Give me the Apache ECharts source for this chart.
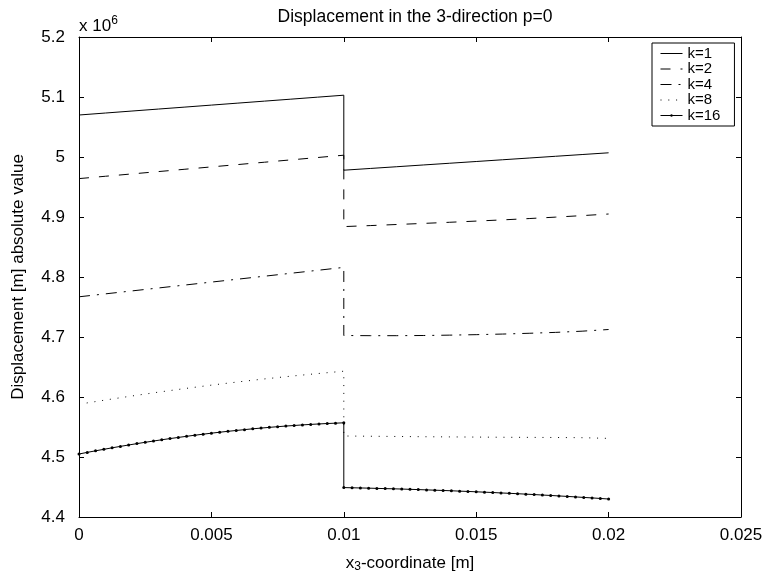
<!DOCTYPE html>
<html>
<head>
<meta charset="utf-8">
<script src="https://cdn.jsdelivr.net/npm/echarts@6/dist/echarts.min.js"></script>
<style>
  html, body { margin: 0; padding: 0; background: #fff; }
  #chart { width: 771px; height: 575px; }
</style>
</head>
<body>
<div id="chart"></div>
<script>
// x positions (m)
const xCoarseLeft = [0, 0.001, 0.002, 0.003, 0.004, 0.005, 0.006, 0.007, 0.008, 0.009, 0.01];
const xCoarseRight = [0.01, 0.011, 0.012, 0.013, 0.014, 0.015, 0.016, 0.017, 0.018, 0.019, 0.02];
const xFineLeft = [0, 0.0003125, 0.000625, 0.0009375, 0.00125, 0.0015625, 0.001875, 0.0021875, 0.0025,
  0.0028125, 0.003125, 0.0034375, 0.00375, 0.0040625, 0.004375, 0.0046875, 0.005, 0.0053125, 0.005625,
  0.0059375, 0.00625, 0.0065625, 0.006875, 0.0071875, 0.0075, 0.0078125, 0.008125, 0.0084375, 0.00875,
  0.0090625, 0.009375, 0.0096875, 0.01];
const xFineRight = [0.01, 0.0103125, 0.010625, 0.0109375, 0.01125, 0.0115625, 0.011875, 0.0121875, 0.0125,
  0.0128125, 0.013125, 0.0134375, 0.01375, 0.0140625, 0.014375, 0.0146875, 0.015, 0.0153125, 0.015625,
  0.0159375, 0.01625, 0.0165625, 0.016875, 0.0171875, 0.0175, 0.0178125, 0.018125, 0.0184375, 0.01875,
  0.0190625, 0.019375, 0.0196875, 0.02];

// displacement (x 10^6 m), left layer / right layer
const k1Left = [5.070, 5.0733, 5.0766, 5.0799, 5.0832, 5.0865, 5.0898, 5.0931, 5.0964, 5.0997, 5.103];
const k1Right = [4.978, 4.9809, 4.9838, 4.9867, 4.9896, 4.9925, 4.9954, 4.9983, 5.0012, 5.0041, 5.007];
const k2Left = [4.964, 4.9679, 4.9718, 4.9757, 4.9796, 4.9835, 4.9874, 4.9913, 4.9952, 4.9991, 5.003];
const k2Right = [4.884, 4.8857, 4.8875, 4.8893, 4.8912, 4.8932, 4.8952, 4.8974, 4.8998, 4.9023, 4.905];
const k4Left = [4.767, 4.7719, 4.7768, 4.7817, 4.7866, 4.7915, 4.7964, 4.8013, 4.8062, 4.8111, 4.816];
const k4Right = [4.7025, 4.7022, 4.7022, 4.7025, 4.7031, 4.7039, 4.7049, 4.7062, 4.7077, 4.7097, 4.7125];
const k8Left = [4.588, 4.5950, 4.6017, 4.6081, 4.6141, 4.6198, 4.6251, 4.6301, 4.6347, 4.6390, 4.643];
const k8Right = [4.535, 4.5346, 4.5342, 4.5338, 4.5335, 4.5332, 4.5329, 4.5327, 4.5325, 4.5322, 4.531];
const k16Left = [4.5050, 4.5077, 4.5103, 4.5128, 4.5153, 4.5177, 4.5200, 4.5223, 4.5245, 4.5266, 4.5287,
  4.5307, 4.5326, 4.5345, 4.5363, 4.5380, 4.5397, 4.5413, 4.5428, 4.5442, 4.5456, 4.5470, 4.5482,
  4.5494, 4.5505, 4.5516, 4.5525, 4.5535, 4.5543, 4.5551, 4.5558, 4.5564, 4.5570];
const k16Right = [4.4490, 4.4487, 4.4484, 4.4481, 4.4477, 4.4473, 4.4470, 4.4466, 4.4461, 4.4457, 4.4452,
  4.4447, 4.4442, 4.4437, 4.4431, 4.4426, 4.4420, 4.4414, 4.4408, 4.4401, 4.4395, 4.4388, 4.4381,
  4.4374, 4.4366, 4.4359, 4.4351, 4.4343, 4.4335, 4.4326, 4.4318, 4.4309, 4.4300];

const labels = ['k=1', 'k=2', 'k=4', 'k=8', 'k=16'];

function pairs(xl, yl, xr, yr) {
  return xl.map((x, i) => [x, yl[i]]).concat(xr.map((x, i) => [x, yr[i]]));
}

const FONT = 'Liberation Sans, Arial, Helvetica, sans-serif';
const chart = echarts.init(document.getElementById('chart'));

function line(name, data, dash, withDots) {
  return {
    name,
    type: 'line',
    data,
    xAxisIndex: 0,
    yAxisIndex: 0,
    symbol: withDots ? 'circle' : 'none',
    symbolSize: 3,
    showAllSymbol: true,
    itemStyle: { color: '#000' },
    lineStyle: { color: '#000', width: 1, type: dash },
    emphasis: { disabled: true },
    silent: true,
  };
}

const series = [
  line(labels[0], pairs(xCoarseLeft, k1Left, xCoarseRight, k1Right), 'solid', false),
  line(labels[1], pairs(xCoarseLeft, k2Left, xCoarseRight, k2Right), [10, 10], false),
  line(labels[2], pairs(xCoarseLeft, k4Left, xCoarseRight, k4Right), [11, 7, 2, 7], false),
  line(labels[3], pairs(xCoarseLeft, k8Left, xCoarseRight, k8Right), [1, 6.8], false),
  line(labels[4], pairs(xFineLeft, k16Left, xFineRight, k16Right), 'solid', true),
];

const axisCommon = {
  axisLine: { show: true, onZero: false, lineStyle: { color: '#000', width: 1 } },
  axisTick: { show: true, inside: true, length: 5, lineStyle: { color: '#000' } },
  splitLine: { show: false },
};

chart.setOption({
  animation: false,
  backgroundColor: '#fff',
  title: {
    text: 'Displacement in the 3-direction p=0',
    left: 410,
    textAlign: 'center',
    top: 3,
    textStyle: { fontFamily: FONT, fontSize: 17.5, fontWeight: 'normal', color: '#000' },
  },
  grid: { left: 79, top: 37, right: 30, bottom: 58 },
  legend: {
    orient: 'vertical',
    left: 652,
    top: 43,
    data: labels.map((name, i) => ({
      name,
      itemStyle: i < 4 ? { opacity: 0 } : { color: '#000' },
    })),
    itemWidth: 22,
    itemHeight: 3,
    itemGap: 0.5,
    itemTextGap: 13,
    lineStyle: { width: 1 },
    padding: [3, 14, 3, 8],
    borderColor: '#000',
    borderWidth: 1,
    backgroundColor: '#fff',
    textStyle: { fontFamily: FONT, fontSize: 15, color: '#000' },
  },
  xAxis: [
    Object.assign({
      type: 'value', min: 0, max: 0.025, interval: 0.005, position: 'bottom',
      axisLabel: { fontFamily: FONT, fontSize: 17, color: '#000', margin: 10 },
    }, axisCommon),
    Object.assign({
      type: 'value', min: 0, max: 0.025, interval: 0.005, position: 'top',
      axisLabel: { show: false },
    }, axisCommon),
  ],
  yAxis: [
    Object.assign({
      type: 'value', min: 4.4, max: 5.2, interval: 0.1, position: 'left',
      name: 'Displacement [m] absolute value',
      nameLocation: 'middle', nameGap: 52, nameRotate: 90,
      nameTextStyle: { fontFamily: FONT, fontSize: 17, color: '#000' },
      axisLabel: { fontFamily: FONT, fontSize: 17, color: '#000', margin: 14 },
    }, axisCommon),
    Object.assign({
      type: 'value', min: 4.4, max: 5.2, interval: 0.1, position: 'right',
      axisLabel: { show: false },
    }, axisCommon),
  ],
  graphic: [
    {
      type: 'text', left: 79, top: 15, silent: true,
      style: {
        text: '{a|x 10}{s|6}',
        rich: {
          a: { fontFamily: FONT, fontSize: 17, lineHeight: 22, fill: '#000' },
          s: { fontFamily: FONT, fontSize: 12, lineHeight: 22, verticalAlign: 'top', fill: '#000' },
        },
      },
    },
    {
      type: 'text', x: 410, y: 553, silent: true,
      style: {
        text: '{a|x}{s|3}{a|-coordinate [m]}',
        align: 'center',
        rich: {
          a: { fontFamily: FONT, fontSize: 17, lineHeight: 20, fill: '#000' },
          s: { fontFamily: FONT, fontSize: 12, lineHeight: 20, verticalAlign: 'bottom', fill: '#000' },
        },
      },
    },
  ],
  series,
});
</script>
</body>
</html>
